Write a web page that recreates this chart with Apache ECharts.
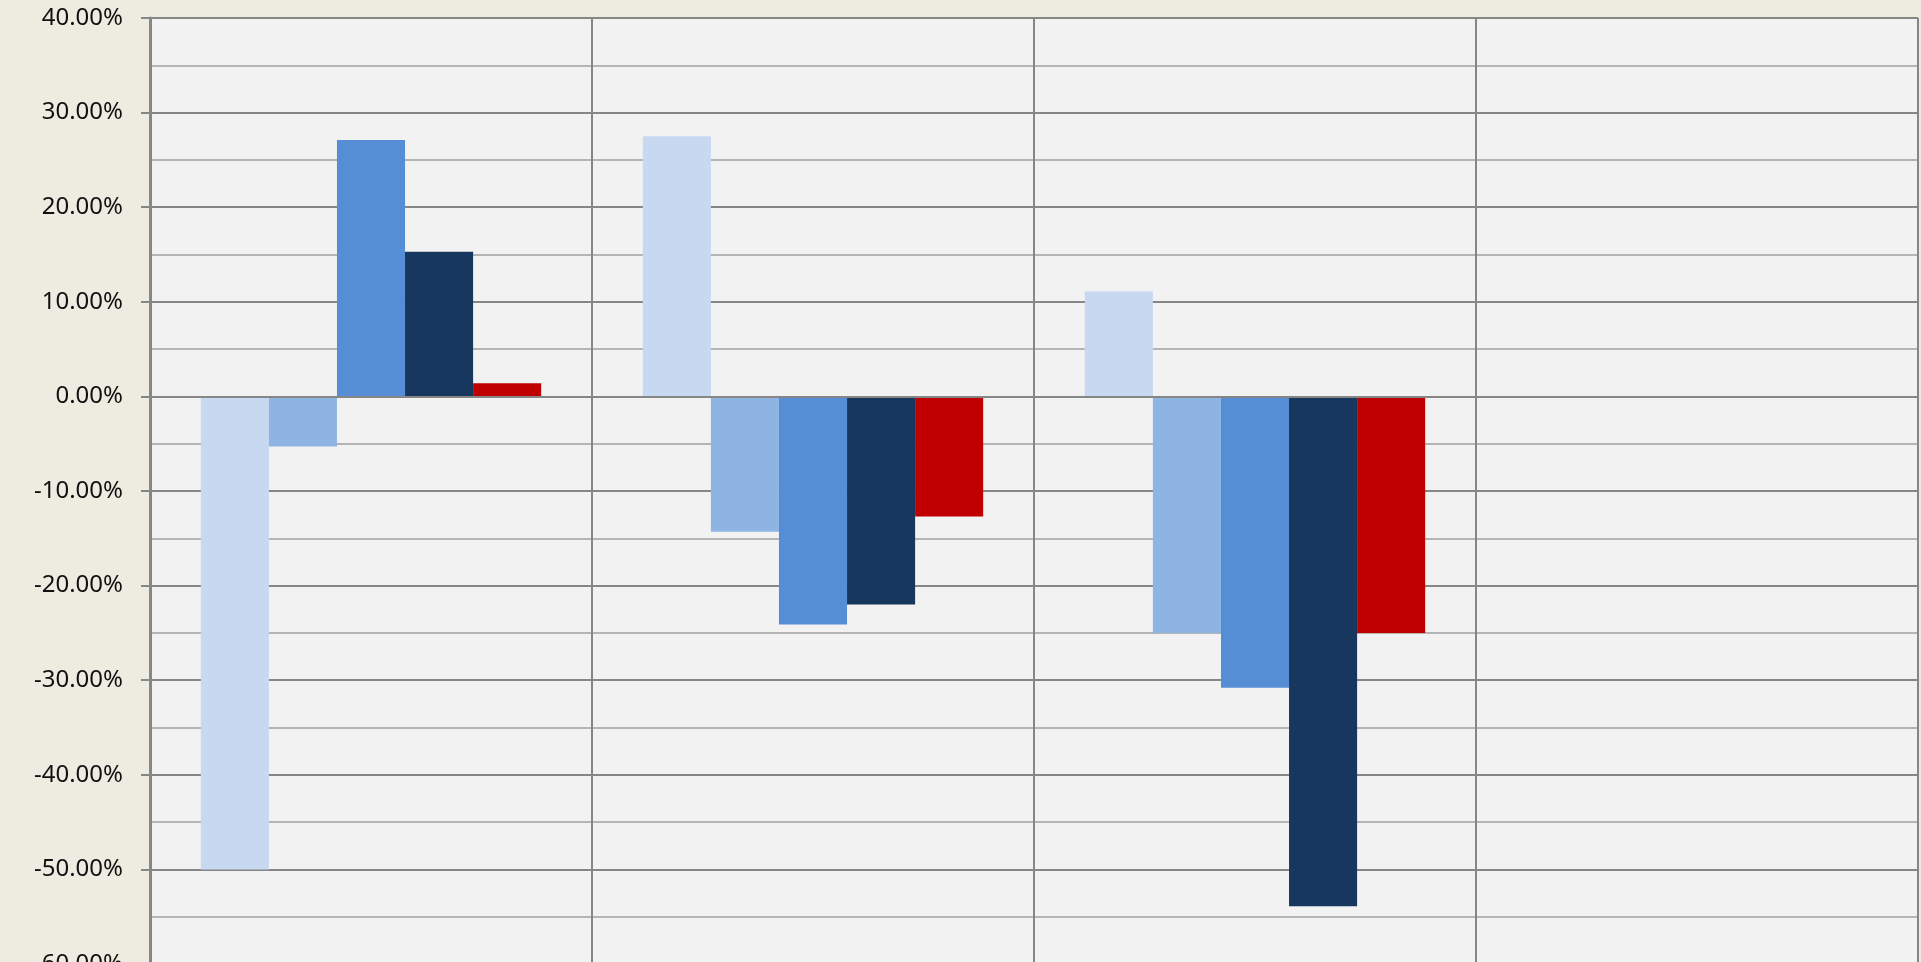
<!DOCTYPE html>
<html>
<head>
<meta charset="utf-8">
<script src="https://cdn.jsdelivr.net/npm/echarts@6/dist/echarts.min.js"></script>
<style>
html,body{margin:0;padding:0;background:#EEECE1;overflow:hidden;}
#chart{width:1921px;height:962px;}
</style>
</head>
<body>
<div id="chart"></div>
<script>
var categories = ['1', '2', '3', '4'];
var series1 = [-50.0, 27.5, 11.1, null];
var series2 = [-5.3, -14.3, -25.0, null];
var series3 = [27.1, -24.1, -30.8, null];
var series4 = [15.3, -22.0, -53.9, null];
var series5 = [1.4, -12.7, -25.0, null];
var colors = ['#C6D9F1', '#8EB4E3', '#558ED5', '#17375E', '#C00000'];

var chart = echarts.init(document.getElementById('chart'));
function mk(data, i) {
  return {
    type: 'bar',
    data: data,
    barGap: '0%',
    barCategoryGap: '23%',
    itemStyle: { color: colors[i] },
    silent: true
  };
}
chart.setOption({
  backgroundColor: '#EEECE1',
  animation: false,
  grid: {
    left: 150, top: 18, width: 1768, height: 946,
    outerBoundsMode: 'none',
    containLabel: false,
    show: true, backgroundColor: '#F2F2F2', borderWidth: 0
  },
  xAxis: {
    type: 'category',
    data: categories,
    boundaryGap: true,
    z: 3,
    axisLine: { onZero: true, lineStyle: { color: '#868686', width: 2 } },
    axisTick: { show: false },
    axisLabel: { show: false },
    splitLine: { show: true, interval: 0, lineStyle: { color: '#868686', width: 2 } }
  },
  yAxis: {
    type: 'value',
    min: -60, max: 40, interval: 10,
    axisLine: { show: true, lineStyle: { color: '#868686', width: 3 } },
    axisTick: { show: true, length: 9, lineStyle: { color: '#868686', width: 2 } },
    axisLabel: {
      margin: 27,
      fontFamily: 'Noto Sans',
      fontSize: 24,
      color: '#111',
      formatter: function (v) { return v.toFixed(2) + '%'; }
    },
    splitLine: { show: true, lineStyle: { color: '#868686', width: 2 } },
    minorTick: { show: false, splitNumber: 2 },
    minorSplitLine: { show: true, lineStyle: { color: '#B4B4B4', width: 2 } }
  },
  series: [mk(series1, 0), mk(series2, 1), mk(series3, 2), mk(series4, 3), mk(series5, 4)]
});
</script>
</body>
</html>
